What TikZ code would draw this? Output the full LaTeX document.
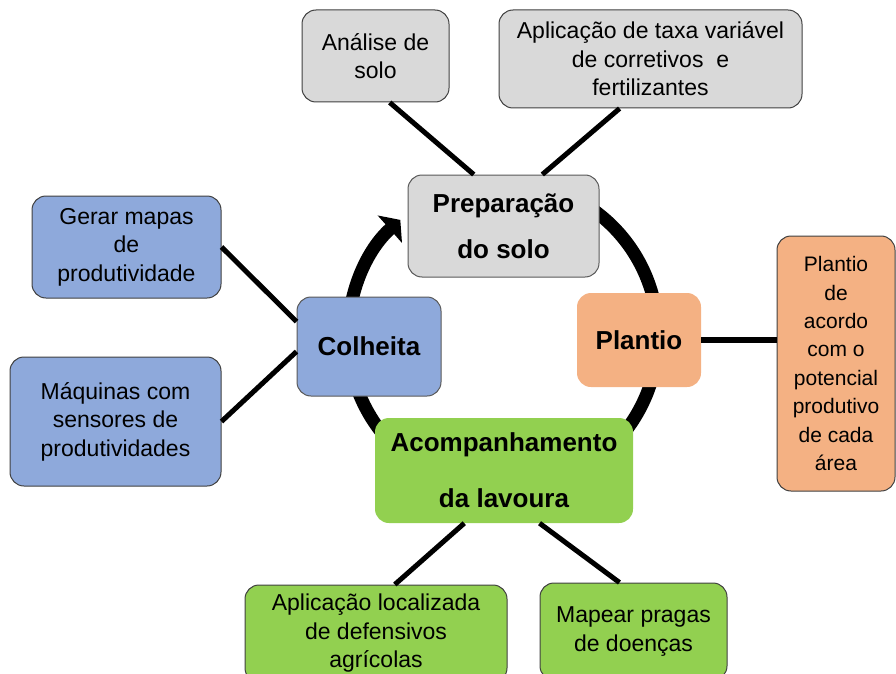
\documentclass[tikz,border=0pt]{standalone}
\usepackage{fontspec}
\setmainfont{Liberation Sans}
\usetikzlibrary{arrows.meta}

\definecolor{cinza}{HTML}{D9D9D9}
\definecolor{azul}{HTML}{8EA9DB}
\definecolor{laranja}{HTML}{F4B183}
\definecolor{verde}{HTML}{92D050}

\begin{document}
\begin{tikzpicture}[x=1pt, y=-1pt,
    etapa/.style={rounded corners=14pt, align=center, inner sep=0pt, font=\bfseries\fontsize{26}{46}\selectfont},
    tarefa/.style={draw=black!75, line width=1pt, rounded corners=14pt, align=center, inner sep=0pt, font=\fontsize{23}{28.5}\selectfont},
    ligacao/.style={line width=5pt},]
    \useasboundingbox (0,0) rectangle (896,674);
    \clip (0,0) rectangle (896,674);
    % ciclo
    \coordinate (hub) at (503,336);
    \draw[line width=13pt, -{Triangle[width=36pt, length=14pt]}] (hub) ++(-60:155) arc[start angle=-60, end angle=228.5, radius=155];
    % etapas
    \node[etapa, fill=cinza, draw=black!65, line width=1pt, minimum width=191pt, minimum height=102pt] (prep) at (503.5,226) {Prepara\c{c}\~ao\\do solo};
    \node[etapa, fill=laranja, minimum width=124pt, minimum height=94pt] (plantio) at (639,340) {Plantio};
    \node[etapa, fill=verde, font=\bfseries\fontsize{26}{56}\selectfont, minimum width=258pt, minimum height=105pt] (acomp) at (504,470.5) {Acompanhamento\\da lavoura};
    \node[etapa, fill=azul, draw=black!65, line width=1pt, minimum width=144pt, minimum height=99pt] (colheita) at (369,346.5) {Colheita};
    % tarefas
    \node[tarefa, fill=cinza, minimum width=147pt, minimum height=92pt] (analise) at (375.5,56) {An\'alise de\\solo};
    \node[tarefa, fill=cinza, minimum width=303pt, minimum height=98pt] (taxa) at (650.5,59) {Aplica\c{c}\~ao de taxa vari\'avel\\de corretivos \ e\\fertilizantes};
    \node[tarefa, fill=azul, minimum width=189pt, minimum height=102pt] (gerar) at (126.5,247) {Gerar mapas\\de\\produtividade};
    \node[tarefa, fill=azul, minimum width=211pt, minimum height=129pt] (maquinas) at (115.5,421.5) {M\'aquinas com\\sensores de\\produtividades};
    \node[tarefa, fill=laranja, font=\fontsize{21}{28.4}\selectfont, minimum width=118pt, minimum height=255pt] (plantdesc) at (836,363.5) {Plantio\\de\\acordo\\com o\\potencial\\produtivo\\de cada\\\'area};
    \node[tarefa, fill=verde, minimum width=262pt, minimum height=97pt] (apploc) at (376,633.5) {Aplica\c{c}\~ao localizada\\de defensivos\\agr\'icolas};
    \node[tarefa, fill=verde, minimum width=187pt, minimum height=97pt] (mapear) at (633.5,631.5) {Mapear pragas\\de doen\c{c}as};
    % ligacoes
    \draw[ligacao] (analise.-73) -- (prep.120);
    \draw[ligacao] (taxa.-122) -- (prep.53);
    \draw[ligacao] (gerar.east) -- (colheita.161);
    \draw[ligacao] (maquinas.east) -- (colheita.184);
    \draw[ligacao, line width=6pt] (plantio.east) -- (plantio.east -| plantdesc.west);
    \draw[ligacao] (acomp.-127) -- (apploc.69);
    \draw[ligacao] (acomp.-56) -- (mapear.106);
\end{tikzpicture}
\end{document}
